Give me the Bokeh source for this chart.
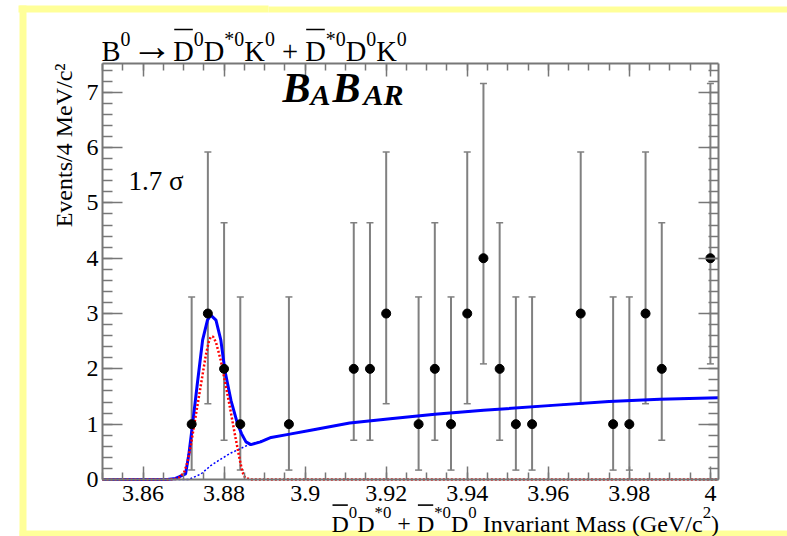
import math
from bokeh.plotting import figure
from bokeh.models import (ColumnDataSource, Whisker, TeeHead, Label, BoxAnnotation,
                          LinearAxis, FixedTicker, CustomJSTickFormatter, Range1d)
from bokeh.embed import file_html
from bokeh.resources import INLINE

# ---------------- data ----------------
mass = [3.872, 3.876, 3.880, 3.884, 3.896, 3.912, 3.916, 3.920, 3.928, 3.932, 3.936,
        3.940, 3.944, 3.948, 3.952, 3.956, 3.968, 3.976, 3.980, 3.984, 3.988, 4.000]
events = [1, 3, 2, 1, 1, 2, 2, 3, 1, 2, 1, 3, 4, 2, 1, 1, 3, 1, 1, 3, 2, 4]
err_lo = [0.83, 1.63, 1.29, 0.83, 0.83, 1.29, 1.29, 1.63, 0.83, 1.29, 0.83,
          1.63, 1.91, 1.29, 0.83, 0.83, 1.63, 0.83, 0.83, 1.63, 1.29, 1.91]
err_hi = [2.30, 2.92, 2.64, 2.30, 2.30, 2.64, 2.64, 2.92, 2.30, 2.64, 2.30,
          2.92, 3.16, 2.64, 2.30, 2.30, 2.92, 2.30, 2.30, 2.92, 2.64, 3.16]

# total fit (solid blue)
fit_x = [3.850, 3.866, 3.868, 3.869, 3.8705, 3.8713, 3.8722, 3.8734, 3.8747, 3.8759,
         3.8767, 3.8780, 3.8792, 3.8802, 3.8817, 3.8833, 3.8843, 3.8854, 3.8866, 3.8890,
         3.8916, 3.8962, 3.9014, 3.911, 3.921, 3.932, 3.944, 3.961, 3.975, 3.9875, 4.002]
fit_y = [0.0, 0.0, 0.02, 0.05, 0.10, 0.45, 0.98, 1.73, 2.52, 2.88,
         2.97, 2.88, 2.52, 1.97, 1.43, 1.01, 0.83, 0.68, 0.63, 0.68,
         0.76, 0.82, 0.89, 1.02, 1.10, 1.18, 1.25, 1.34, 1.41, 1.45, 1.48]
# background component (thin blue dotted)
bkg_x = [3.850, 3.8713, 3.8743, 3.8767, 3.8792, 3.8817, 3.8841, 3.8858, 3.8874, 3.8916,
         3.8962, 3.9014, 3.911, 3.921, 3.932, 3.944, 3.961, 3.975, 3.9875, 4.002]
bkg_y = [0.0, 0.0, 0.10, 0.25, 0.37, 0.48, 0.56, 0.62, 0.65, 0.76,
         0.82, 0.89, 1.02, 1.10, 1.18, 1.25, 1.34, 1.41, 1.45, 1.48]
# signal component (red dotted)
sig_x = [3.850, 3.866, 3.868, 3.869, 3.8701, 3.8710, 3.8718, 3.8730, 3.8743, 3.8755,
         3.8762, 3.8767, 3.8773, 3.8780, 3.8792, 3.8800, 3.8812, 3.8825, 3.8837, 3.8845,
         3.8852, 3.8865, 4.002]
sig_y = [0.0, 0.0, 0.01, 0.04, 0.12, 0.32, 0.62, 1.15, 1.72, 2.25,
         2.48, 2.58, 2.58, 2.48, 2.15, 1.85, 1.40, 0.88, 0.42, 0.14,
         0.03, 0.0, 0.0]

x_ticks = [3.86, 3.88, 3.90, 3.92, 3.94, 3.96, 3.98, 4.00]
y_ticks = [0, 1, 2, 3, 4, 5, 6, 7]
x_minor = [round(3.85 + 0.005 * i, 3) for i in range(31)]
y_minor = [round(0.2 * i, 1) for i in range(38)]

# ---------------- geometry helpers ----------------
X0, X1, Y0, Y1 = 3.85, 4.002, 0.0, 7.52     # histogram frame (data)
FL, FR, FT, FB = 102, 718, 63, 479          # histogram frame (pixels)
W, H = 787, 536


def X(px):
    return X0 + (px - FL) * (X1 - X0) / (FR - FL)


def Y(py):
    return Y0 + (FB - py) * (Y1 - Y0) / (FB - FT)


# the plotting frame covers the whole canvas; the axes sit at fixed locations
p = figure(width=W, height=H, x_range=Range1d(X(0), X(W)), y_range=Range1d(Y(H), Y(0)),
           output_backend="svg", toolbar_location=None, title=None,
           x_axis_location=None, y_axis_location=None,
           min_border=0, min_border_left=0, min_border_right=0,
           min_border_top=0, min_border_bottom=0)
p.grid.visible = False
p.background_fill_color = "white"
p.border_fill_color = "white"
p.outline_line_color = None

ax_b = LinearAxis(fixed_location=Y0, bounds=(X0, X1))
ax_t = LinearAxis(fixed_location=Y1, bounds=(X0, X1))
ax_l = LinearAxis(fixed_location=X0, bounds=(Y0, Y1))
ax_r = LinearAxis(fixed_location=X1, bounds=(Y0, Y1))
p.add_layout(ax_b, "below")
p.add_layout(ax_t, "above")
p.add_layout(ax_l, "left")
p.add_layout(ax_r, "right")

GRAY = "#777777"
FONT = "Liberation Serif"
fmt = CustomJSTickFormatter(code="return (Math.round(tick*1000)/1000).toString();")
blank = CustomJSTickFormatter(code="return '';")
for ax in (ax_b, ax_t):
    ax.ticker = FixedTicker(ticks=x_ticks, minor_ticks=x_minor)
    ax.major_tick_in, ax.major_tick_out = 13, 0
    ax.minor_tick_in, ax.minor_tick_out = 7, 0
for ax in (ax_l, ax_r):
    ax.ticker = FixedTicker(ticks=y_ticks, minor_ticks=y_minor)
    ax.major_tick_in, ax.major_tick_out = 20, 0
    ax.minor_tick_in, ax.minor_tick_out = 10, 0
for ax in (ax_b, ax_t, ax_l, ax_r):
    ax.axis_line_color = GRAY
    ax.axis_line_width = 2
    ax.major_tick_line_color = GRAY
    ax.major_tick_line_width = 1.5
    ax.minor_tick_line_color = GRAY
    ax.minor_tick_line_width = 1.5
    ax.major_label_text_font = FONT
    ax.major_label_text_font_size = "24px"
    ax.major_label_text_color = "black"
ax_b.formatter = fmt
ax_b.major_label_standoff = 6
ax_l.formatter = fmt
ax_l.major_label_standoff = 4
ax_t.formatter = blank
ax_r.formatter = blank

# ---------------- data marks ----------------
src = ColumnDataSource(dict(x=mass, y=events,
                            lo=[v - e for v, e in zip(events, err_lo)],
                            hi=[v + e for v, e in zip(events, err_hi)]))
p.add_layout(Whisker(base="x", lower="lo", upper="hi", source=src, dimension="height",
                     line_color="#808080", line_width=2, level="underlay",
                     upper_head=TeeHead(size=7, line_color="#808080", line_width=1.5),
                     lower_head=TeeHead(size=7, line_color="#808080", line_width=1.5)))
p.line(fit_x, fit_y, line_color="#0000ff", line_width=3)
p.line(bkg_x, bkg_y, line_color="#0000ff", line_width=1.5, line_dash="2 2")
p.line(sig_x, sig_y, line_color="#ff0000", line_width=2.5, line_dash="2 2")
p.scatter(mass, events, size=9, color="black")

# ---------------- rich text helper ----------------
TW = {'D': .722, 'B': .667, 'K': .722, '0': .5, '2': .5, '*': .5, '+': .564, ' ': .25,
      '\u2192': 1.0, 'I': .333, 'n': .5, 'v': .5, 'a': .444, 'r': .333, 'i': .278, 't': .278,
      'M': .889, 's': .389, '(': .333, ')': .333, 'G': .722, 'e': .444, 'V': .722, '/': .278,
      'c': .444}


def twidth(s, size):
    return sum(TW.get(c, .5) for c in s) * size


def rich(runs, x0, base, size, sup_scale=0.7, sup_rise=0.45):
    x = x0
    for text, kind in runs:
        if kind == "sup":
            fs = size * sup_scale
            y = base - size * sup_rise
        else:
            fs = size
            y = base
        core = text.strip(" ")
        lead = len(text) - len(text.lstrip(" "))
        trail = len(text) - len(text.rstrip(" "))
        x += lead * TW[" "] * fs
        w = twidth(core, fs)
        if kind == "arrow":
            # drawn larger, centred on its slot
            p.add_layout(Label(x=X(x + w / 2), y=Y(base - 6), text=core, text_font=FONT,
                               text_font_size=f"{fs * 1.45:.1f}px", text_color="black",
                               text_align="center", text_baseline="alphabetic"))
        else:
            p.add_layout(Label(x=X(x), y=Y(y), text=core, text_font=FONT,
                               text_font_size=f"{fs:.1f}px", text_color="black",
                               text_align="left", text_baseline="alphabetic"))
        if kind == "bar":
            top = base - size * 0.80
            p.add_layout(BoxAnnotation(left=X(x + 1), right=X(x + w - 1), top=Y(top),
                                       bottom=Y(top + 1.6), fill_color="black", fill_alpha=1,
                                       line_alpha=0))
        x += w + trail * TW[" "] * fs


title_runs = [("B", "n"), ("0", "sup"), (" \u2192 ", "arrow"), ("D", "bar"), ("0", "sup"),
              ("D", "n"), ("*0", "sup"), ("K", "n"), ("0", "sup"), (" + ", "n"),
              ("D", "bar"), ("*0", "sup"), ("D", "n"), ("0", "sup"), ("K", "n"), ("0", "sup")]
rich(title_runs, 101, 51, 28.5)

xlab_runs = [("D", "bar"), ("0", "sup"), ("D", "n"), ("*0", "sup"), (" + ", "n"),
             ("D", "bar"), ("*0", "sup"), ("D", "n"), ("0", "sup"),
             (" Invariant Mass (GeV/c", "n"), ("2", "sup"), (")", "n")]
rich(xlab_runs, 331, 523, 24)

p.add_layout(Label(x=X(63), y=Y(63), text="Events/4 MeV/c\u00b2", angle=math.pi / 2,
                   text_font=FONT, text_font_size="24px", text_color="black",
                   text_align="right", text_baseline="alphabetic"))

p.add_layout(Label(x=X(128), y=Y(195), text="1.7 \u03c3", text_font=FONT,
                   text_font_size="27px", text_color="black"))

for txt, px, fs in [("B", 282, 42), ("A", 310, 30), ("B", 332, 42), ("AR", 363, 30)]:
    p.add_layout(Label(x=X(px), y=Y(110), text=txt, text_font=FONT, text_font_size=f"{fs}px",
                       text_font_style="bold italic", text_color="black"))

# ---------------- yellow frame ----------------
YEL = "#ffff99"
for l, r, t, b in [(18, 268, 5, 12), (268, 787, 6, 12), (19, 26, 5, 536), (19, 787, 530, 536)]:
    p.add_layout(BoxAnnotation(left=X(l), right=X(r), top=Y(t), bottom=Y(b),
                               fill_color=YEL, fill_alpha=1, line_alpha=0, level="underlay"))

open("out.html", "w").write(file_html(p, INLINE))
